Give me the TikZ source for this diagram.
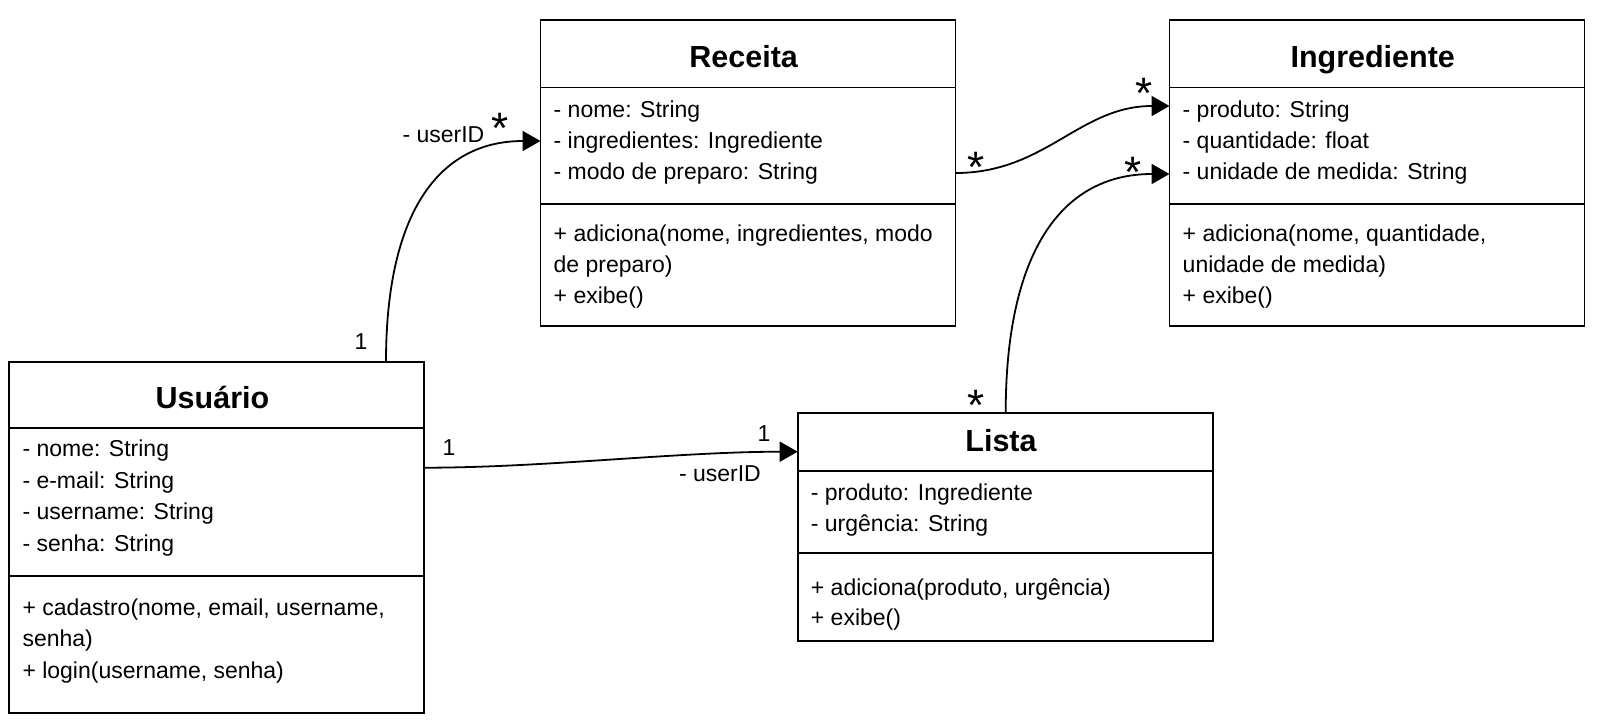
\documentclass[tikz,border=0pt]{standalone}
\usepackage{fontspec}
\setmainfont{Liberation Sans}
\usetikzlibrary{arrows.meta}
\tikzset{
  umlbox/.style={draw, line width=1.8pt, minimum width=415pt, anchor=north west, inner sep=0pt, outer sep=0pt},
  sepline/.style={line width=1.8pt},
  ctitle/.style={font=\fontsize{30.5}{30.5}\selectfont\bfseries, anchor=base, inner sep=0pt},
  member/.style={font=\fontsize{23}{23}\selectfont, anchor=base west, inner sep=0pt},
  mult/.style={font=\fontsize{23}{23}\selectfont, anchor=base, inner sep=0pt},
  rolelab/.style={font=\fontsize{23}{23}\selectfont, anchor=base east, inner sep=0pt},
  star/.style={font=\fontsize{44}{44}\selectfont, anchor=base, inner sep=0pt},
  assoc/.style={line width=1.8pt, -{Triangle[length=18pt,width=20pt]}},
}
\begin{document}
\begin{tikzpicture}[x=1pt,y=-1pt]
\useasboundingbox (0,0) rectangle (1600,724);

% ---------- Receita ----------
\node[umlbox, minimum height=306pt] (rec) at (540.5,20) {};
\draw[sepline] ([yshift=-67.5pt]rec.north west) -- ([yshift=-67.5pt]rec.north east);
\draw[sepline] ([yshift=-184pt]rec.north west) -- ([yshift=-184pt]rec.north east);
\node[ctitle] (rect) at (743.7,67) {Receita};
\node[member] (reca1) at (553.5,117.8) {- nome: String};
\node[member] (reca2) at (553.5,148.5) {- ingredientes: Ingrediente};
\node[member] (reca3) at (553.5,179.3) {- modo de preparo: String};
\node[member] (recm1) at (553.5,241.7) {+ adiciona(nome, ingredientes, modo};
\node[member] (recm2) at (553.5,272.5) {de preparo)};
\node[member] (recm3) at (553.5,303) {+ exibe()};

% ---------- Ingrediente ----------
\node[umlbox, minimum height=306pt] (ing) at (1169.5,20) {};
\draw[sepline] ([yshift=-67.5pt]ing.north west) -- ([yshift=-67.5pt]ing.north east);
\draw[sepline] ([yshift=-184pt]ing.north west) -- ([yshift=-184pt]ing.north east);
\node[ctitle] (ingt) at (1372.7,67) {Ingrediente};
\node[member] (inga1) at (1182.5,117.5) {- produto: String};
\node[member] (inga2) at (1182.5,148.5) {- quantidade: float};
\node[member] (inga3) at (1182.5,179.5) {- unidade de medida: String};
\node[member] (ingm1) at (1182.5,241.7) {+ adiciona(nome, quantidade,};
\node[member] (ingm2) at (1182.5,272.7) {unidade de medida)};
\node[member] (ingm3) at (1182.5,303) {+ exibe()};

% ---------- Usuario ----------
\node[umlbox, minimum height=351pt] (usr) at (9.3,361.7) {};
\draw[sepline] ([yshift=-66.6pt]usr.north west) -- ([yshift=-66.6pt]usr.north east);
\draw[sepline] ([yshift=-214.3pt]usr.north west) -- ([yshift=-214.3pt]usr.north east);
\node[ctitle] (usrt) at (212.5,408.3) {Usuário};
\node[member] (usra1) at (22.3,456.7) {- nome: String};
\node[member] (usra2) at (22.3,488) {- e-mail: String};
\node[member] (usra3) at (22.3,519.6) {- username: String};
\node[member] (usra4) at (22.3,551.2) {- senha: String};
\node[member] (usrm1) at (22.3,615) {+ cadastro(nome, email, username,};
\node[member] (usrm2) at (22.3,646.5) {senha)};
\node[member] (usrm3) at (22.3,678) {+ login(username, senha)};

% ---------- Lista ----------
\node[umlbox, minimum height=228.5pt] (lst) at (797.7,412.7) {};
\draw[sepline] ([yshift=-58.3pt]lst.north west) -- ([yshift=-58.3pt]lst.north east);
\draw[sepline] ([yshift=-140pt]lst.north west) -- ([yshift=-140pt]lst.north east);
\node[ctitle] (lstt) at (1001,451.7) {Lista};
\node[member] (lsta1) at (810.7,500) {- produto: Ingrediente};
\node[member] (lsta2) at (810.7,531) {- urgência: String};
\node[member] (lstm1) at (810.7,595) {+ adiciona(produto, urgência)};
\node[member] (lstm2) at (810.7,625.5) {+ exibe()};

% ---------- Associations ----------
\draw[assoc] ([xshift=376.7pt]usr.north west) .. controls +(0,-147) and +(-103,0) .. ([yshift=-121pt]rec.north west);
\draw[assoc] ([yshift=-153pt]rec.north east) .. controls +(90,0) and +(-90,0) .. ([yshift=-86pt]ing.north west);
\draw[assoc] ([xshift=208pt]lst.north west) .. controls +(0,-159) and +(-109,0) .. ([yshift=-154pt]ing.north west);
\draw[assoc] ([yshift=-106pt]usr.north east) .. controls +(120,0) and +(-120,0) .. ([yshift=-39pt]lst.north west);

% ---------- Labels ----------
\node[rolelab] (l1) at (484.5,142) {- userID};
\node[star] (s1) at (500,143) {*};
\node[mult] (m1) at (361,349.3) {1};

\node[star] (s2) at (976,182) {*};
\node[star] (s3) at (1144,108) {*};

\node[star] (s4) at (1133,187) {*};
\node[star] (s5) at (976,420) {*};

\node[mult] (m2) at (449,455) {1};
\node[mult] (m3) at (764,441.7) {1};
\node[rolelab] (l2) at (761,481.7) {- userID};
\end{tikzpicture}
\end{document}
